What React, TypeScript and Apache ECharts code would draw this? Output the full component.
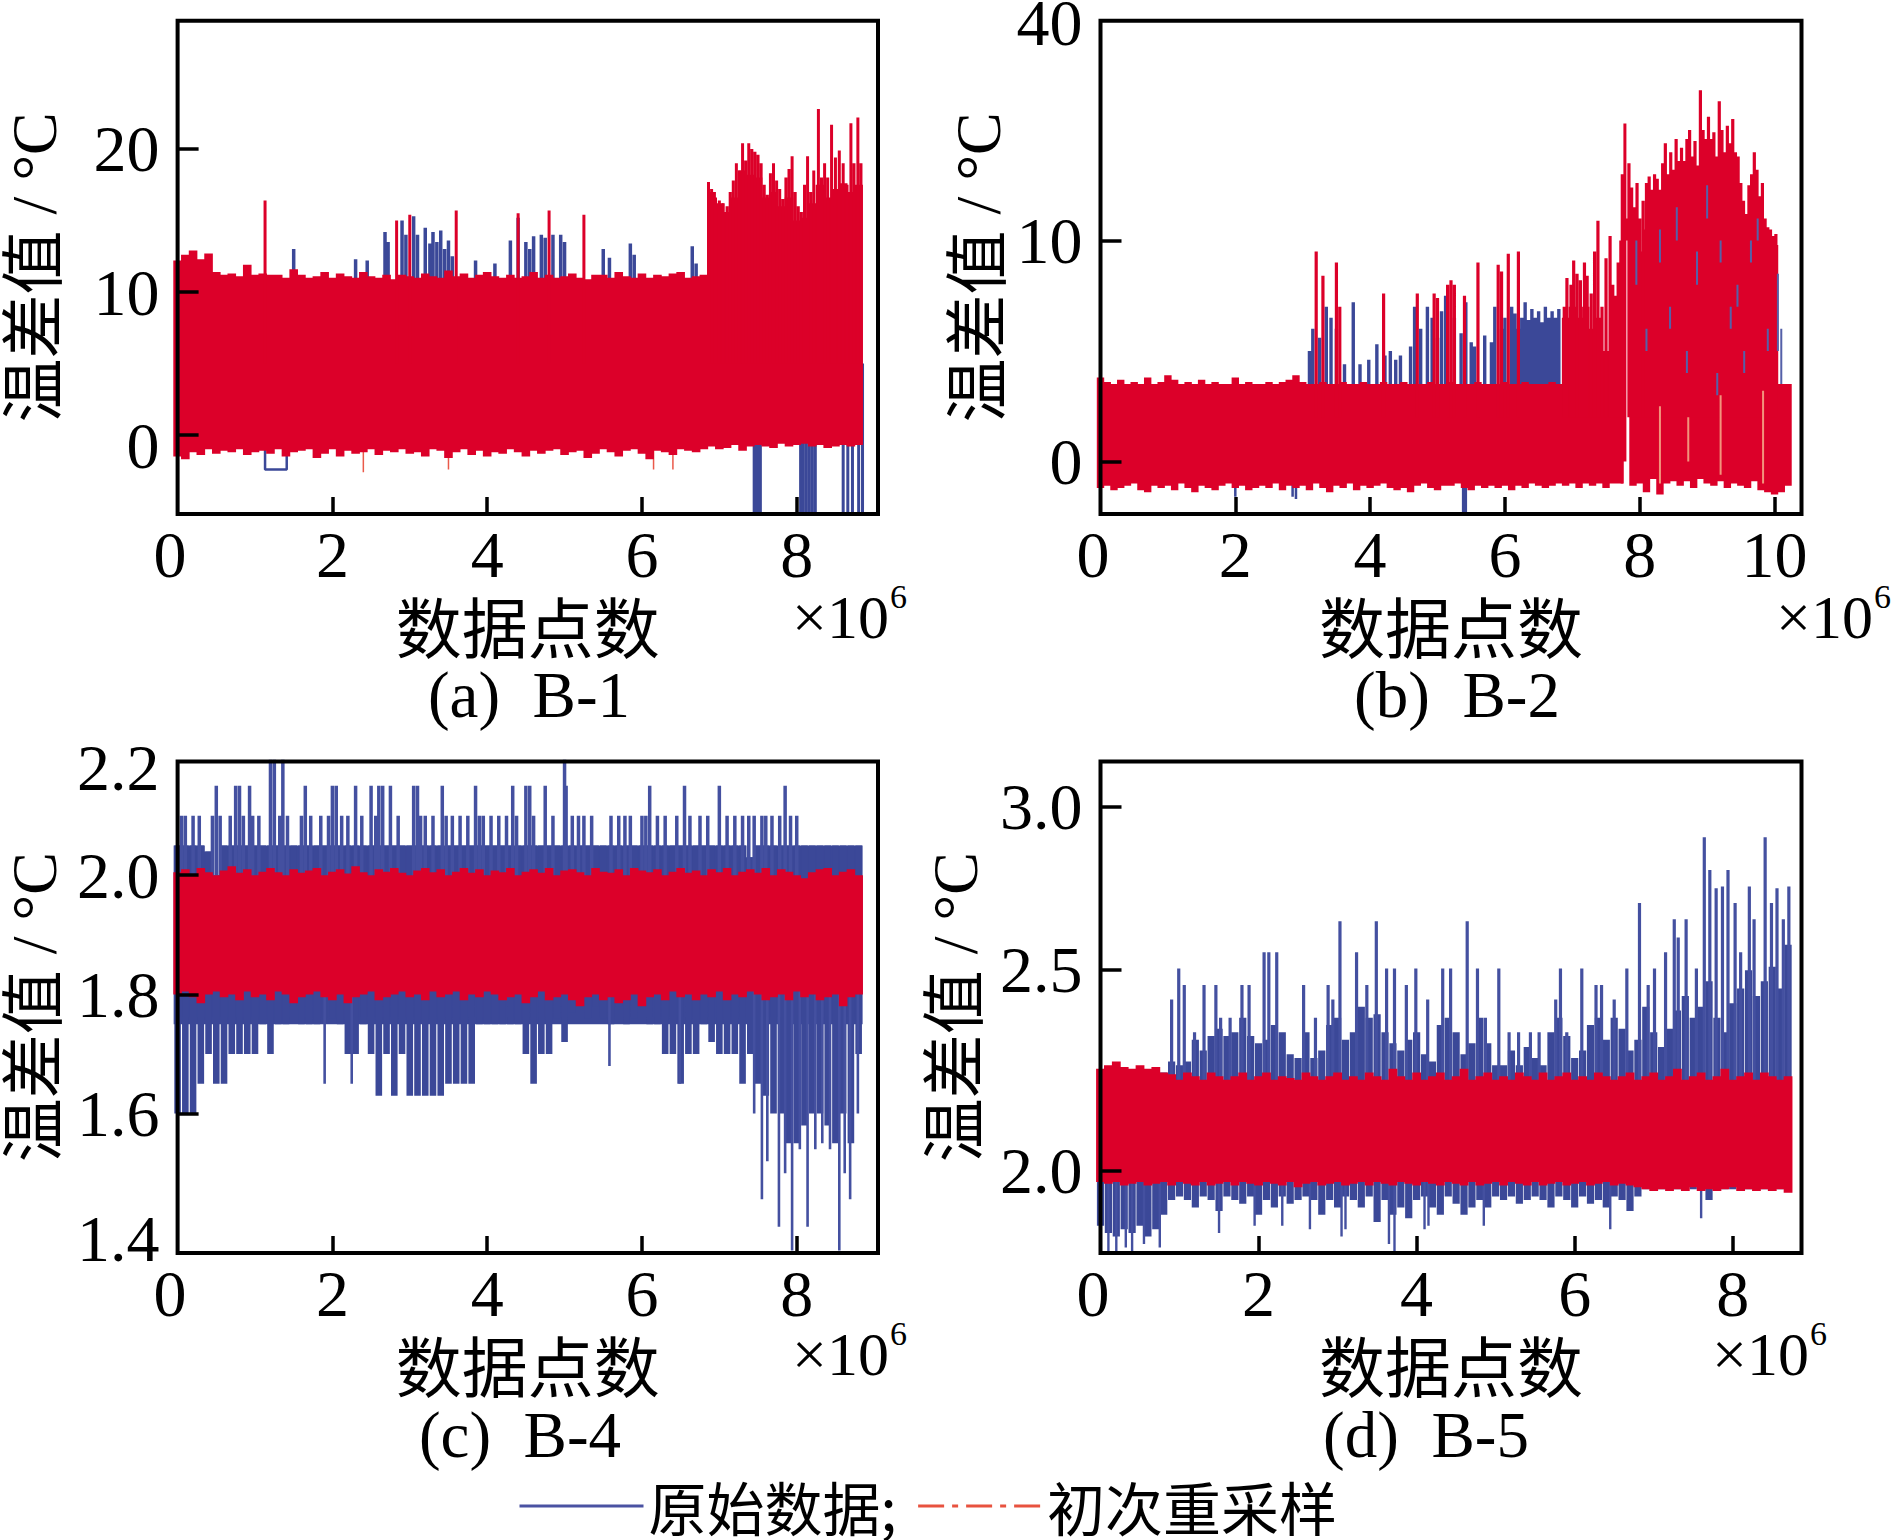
import React, { useEffect, useRef } from "react";
import * as echarts from "echarts";

const BLUE = "#3b4898";
const RED = "#dc0029";
const SERIF = '"Liberation Serif", "Noto Sans CJK SC", serif';
const CJK = '"Noto Sans CJK SC", sans-serif';

const legendNames = ["原始数据;", "初次重采样"];
const panelTitles = ["(a)\u00a0\u00a0B-1", "(b)\u00a0\u00a0B-2", "(c)\u00a0\u00a0B-4", "(d)\u00a0\u00a0B-5"];
const xAxisName = "数据点数";
const yAxisName = "温差值 / °C";

// ---------- B-1 ----------
const aRedHi = [12.2,12.6,12.9,12.3,12.7,11.4,11.2,11.3,11.1,11.9,11.2,11.3,11.2,11.2,11.0,11.6,11.2,11.0,11.1,11.4,11.0,11.3,11.1,11.0,11.4,11.1,11.0,11.2,10.9,11.2,11.1,11.0,11.3,11.1,11.0,11.5,11.1,11.3,11.0,11.2,11.4,11.1,11.0,11.2,11.0,11.1,11.4,11.0,11.2,11.0,11.1,11.3,11.0,10.9,11.2,11.2,11.0,11.4,11.1,11.0,11.3,11.0,11.2,11.1,11.3,11.4,11.0,11.1,11.2,17.0,16.2,15.6,16.6,18.5,18.2,18.0,16.6,17.0,16.0,16.6,15.0,15.2,16.2,17.5,16.6,17.2,17.6,17.0,17.5];
const aRedLo = [-1.5,-1.7,-1.2,-1.4,-1.0,-1.3,-1.1,-1.2,-1.0,-1.4,-1.2,-1.1,-1.3,-1.0,-1.5,-1.2,-1.1,-1.0,-1.6,-1.3,-1.0,-1.5,-1.1,-1.3,-1.2,-1.0,-1.4,-1.1,-1.2,-1.0,-1.3,-1.2,-1.5,-1.0,-1.1,-1.6,-1.2,-1.0,-1.4,-1.1,-1.5,-1.2,-1.3,-1.0,-1.2,-1.5,-1.1,-1.3,-1.1,-1.0,-1.4,-1.2,-1.1,-1.6,-1.3,-1.0,-1.2,-1.5,-1.1,-1.0,-1.3,-1.7,-1.1,-1.2,-1.4,-1.0,-1.1,-1.2,-1.0,-0.8,-1.0,-0.9,-0.7,-1.1,-0.8,-0.7,-0.8,-0.9,-0.6,-0.8,-0.7,-0.6,-0.8,-0.7,-0.9,-0.8,-0.7,-0.8,-0.7];
const aBlueUpX = [1.5,2.3,2.45,2.68,2.72,2.9,2.95,3.05,3.1,3.2,3.26,3.3,3.35,3.4,3.45,3.5,3.55,3.85,4.1,4.3,4.4,4.5,4.55,4.6,4.7,4.75,4.85,4.95,5.0,5.5,5.58,5.85,5.9,6.65,6.7];
const aBlueUpY = [13.0,12.3,12.2,14.2,13.5,15.0,14.0,15.3,14.0,14.5,13.4,14.2,13.5,14.3,13.0,13.6,12.5,12.2,12.0,13.6,15.2,13.5,13.0,13.9,14.0,13.8,14.0,14.0,13.5,13.0,12.4,13.4,12.6,13.2,12.0];
const aBlueDnX = [7.45,7.47,7.5,7.53,8.05,8.08,8.12,8.16,8.2,8.24,8.6,8.66,8.72,8.8,8.85];
const aBlueDnY = [-5.5,-5.5,-5.5,-5.5,-5.5,-5.5,-5.5,-5.5,-5.5,-5.5,-5.5,-5.5,-5.5,-5.5,-5.5];
const aNotchX = [1.13,1.13,1.41,1.41];
const aNotchY = [-1,-2.4,-2.4,-1];
const aRedUpX = [1.13,2.83,3.0,3.6,4.4,4.8,5.25,6.86,6.9,6.95,7.0,7.05,7.1,7.14,7.18,7.22,7.26,7.3,7.34,7.38,7.42,7.46,7.5,7.54,7.58,7.62,7.66,7.7,7.74,7.78,7.82,7.86,7.9,7.94,7.98,8.02,8.06,8.1,8.14,8.18,8.22,8.28,8.32,8.36,8.4,8.45,8.5,8.55,8.6,8.65,8.7,8.74,8.79,8.83];
const aRedUpY = [16.4,15.0,15.4,15.7,15.5,15.7,15.4,17.7,17.2,16.6,16.4,16.2,16.0,17.0,17.8,19.0,18.5,20.4,19.2,20.4,20.0,19.8,19.6,19.0,17.5,16.8,18.3,19.0,17.8,17.2,16.5,18.0,18.6,19.5,17.0,16.0,15.6,17.5,19.5,17.0,18.5,22.8,18.0,19.0,18.0,21.7,19.4,19.9,19.0,17.5,21.8,19.0,22.2,19.0];
const aRedDnX = [6.15,6.4,8.6,2.4,3.5];
const aRedDnY = [-2.4,-2.4,-2.6,-2.6,-2.4];

// ---------- B-2 ----------
const bRedHi = [3.8,3.6,3.5,3.7,3.5,3.6,3.5,3.8,3.5,3.6,3.9,3.7,3.5,3.6,3.5,3.7,3.5,3.6,3.5,3.5,3.8,3.5,3.6,3.5,3.5,3.6,3.5,3.6,3.7,3.9,3.6,3.5,3.5,3.6,3.5,3.5,3.6,3.5,3.5,3.6,3.5,3.5,3.6,3.5,3.5,3.6,3.5,3.5,3.5,3.6,3.5,3.5,3.6,3.5,3.5,3.5,3.6,3.5,3.5,3.5,3.6,3.5,3.5,3.6,3.5,3.5,3.5,3.6,3.5,6.5,7.0,6.5,7.0,6.0,6.5,5.0,5.5,6.5,11.0,10.5,9.5,10.5,11.0,11.0,11.0,12.0,11.5,12.0,12.0,13.0,13.0,12.5,13.0,12.5,12.5,11.0,10.0,11.0,10.5,9.8,9.8,3.5,3.5];
const bRedLo = [-1.2,-1.1,-1.3,-1.2,-1.1,-1.0,-1.3,-1.4,-1.1,-1.2,-1.1,-1.3,-1.0,-1.2,-1.4,-1.1,-1.2,-1.3,-1.1,-1.0,-1.2,-1.1,-1.3,-1.2,-1.1,-1.2,-1.0,-1.3,-1.1,-1.2,-1.1,-1.3,-1.0,-1.2,-1.4,-1.1,-1.2,-1.0,-1.3,-1.1,-1.2,-1.1,-1.0,-1.2,-1.3,-1.2,-1.4,-1.1,-1.0,-1.2,-1.3,-1.1,-1.1,-1.0,-1.2,-1.3,-1.1,-1.2,-1.1,-1.2,-1.1,-1.3,-1.1,-1.2,-1.0,-1.1,-1.2,-1.1,-1.0,-1.1,-1.0,-1.2,-1.0,-1.1,-1.0,-1.2,-1.0,-1.0,10.0,-1.1,-1.0,-1.4,-0.8,-1.5,-1.0,-0.9,-1.1,-0.9,-1.2,-0.8,-1.0,-1.1,-0.9,-1.2,-1.0,-1.1,-1.2,-0.9,-1.3,-1.4,-1.5,-1.4,-1.1];
const bBlueTopX = [3.1,3.15,3.25,3.35,3.42,3.5,3.62,3.75,3.85,3.98,4.1,4.22,4.3,4.38,4.45,4.6,4.66,4.75,4.85,4.92,5.0,5.06,5.12,5.25,5.35,5.42,5.5,5.55,5.7,5.8,5.85,5.95,6.0,6.1,6.15,6.2,6.25,6.3,6.35,6.4,6.45,6.5,6.55,6.6,6.65,6.7,6.75,6.8];
const bBlueTopY = [5.0,6.0,5.6,7.0,6.5,6.0,4.4,7.2,4.4,4.6,5.3,4.8,5.0,4.6,4.8,5.2,7.0,6.0,7.0,6.5,5.6,6.8,7.5,6.5,5.8,7.2,5.4,5.2,5.7,5.4,7.0,6.0,6.5,7.0,6.7,6.0,6.5,7.2,6.4,6.9,6.5,6.8,6.3,7.0,6.5,6.8,6.5,6.9];
const bRedUpX = [3.2,3.3,3.5,3.55,4.2,4.7,4.95,5.0,5.15,5.2,5.25,5.4,5.6,5.9,5.95,6.05,6.2,6.88,6.92,6.98,7.02,7.07,7.12,7.18,7.22,7.28,7.33,7.38,7.44,7.5,7.56,7.6,7.64,7.68,7.72,7.84,7.88,7.92,7.96,8.0,8.05,8.1,8.14,8.18,8.22,8.26,8.3,8.34,8.38,8.42,8.46,8.5,8.54,8.58,8.62,8.66,8.7,8.74,8.78,8.82,8.86,8.9,8.94,8.98,9.02,9.06,9.1,9.14,9.18,9.22,9.26,9.3,9.34,9.38,9.42,9.46,9.5,9.54,9.58,9.62,9.66,9.7,9.74,9.78,9.82,9.86,9.9,9.94,9.98,10.02];
const bRedUpY = [9.5,8.4,9.0,7.0,7.6,7.6,7.6,7.4,8.0,8.2,8.0,7.5,9.0,8.9,8.6,9.4,9.5,7.0,8.3,8.0,9.1,8.5,8.2,9.0,8.4,7.6,9.5,10.9,7.0,9.2,10.2,8.0,7.5,9.0,10.0,13.5,12.4,11.5,12.6,11.0,11.8,12.6,12.9,12.3,13.0,12.8,12.3,13.5,14.4,13.0,14.0,13.2,14.6,13.6,14.2,13.6,14.6,15.0,13.8,14.5,13.4,16.8,15.0,14.6,15.6,14.6,14.9,13.8,16.3,15.0,14.0,15.2,14.4,15.5,14.0,13.8,12.6,11.8,11.2,12.5,13.0,14.0,13.2,12.0,12.6,11.0,10.6,10.5,10.2,10.3];
const bRedSegX = [7.74,7.78];
const bRedSegLo = [-1,0];
const bRedSegHi = [13,15.3];
const bBlueDnX = [2.0,2.85,2.9,5.38,5.4,5.42];
const bBlueDnY = [-1.6,-1.6,-1.7,-2.4,-2.4,-2.4];
const bFleckX = [7.95,8.1,8.3,8.45,8.55,8.7,8.85,9.0,9.15,9.2,9.35,9.45,9.55,9.65,9.75,9.9,10.05,10.1];
const bFleckLo = [8,5,9,6,10,4,8,11,3,9,6,7,4,9,10,5,5,3.5];
const bFleckHi = [10,6,10.5,7,11.5,5,9.5,12.5,4,10,7,8,5,10,11,6,8.5,6];
const bLightX = [8.3,9.2,9.83,8.72];
const bLightLo = [-1,-0.6,-1,0];
const bLightHi = [2.5,3.0,3.2,2.0];

// ---------- B-4 ----------
const cRedHi = [2.005,2.01,2.0,2.012,2.005,2.0,2.008,2.015,2.004,2.01,2.0,2.006,2.012,2.005,2.0,2.01,2.004,2.008,2.012,2.0,2.006,2.01,2.003,2.015,2.005,2.0,2.01,2.006,2.012,2.004,2.0,2.008,2.012,2.005,2.01,2.0,2.006,2.012,2.004,2.01,2.0,2.008,2.005,2.012,2.0,2.006,2.01,2.004,2.012,2.0,2.008,2.01,2.005,2.0,2.012,2.006,2.004,2.01,2.0,2.012,2.008,2.005,2.01,2.0,2.006,2.012,2.004,2.008,2.0,2.01,2.005,2.012,2.0,2.006,2.01,2.004,2.012,2.0,2.01,2.006,2.0,1.995,2.005,2.01,2.012,2.0,2.006,2.01,2.0];
const cRedLo = [1.8,1.805,1.795,1.785,1.8,1.805,1.795,1.8,1.79,1.805,1.795,1.8,1.79,1.805,1.8,1.785,1.795,1.8,1.805,1.795,1.79,1.8,1.785,1.795,1.8,1.805,1.79,1.795,1.8,1.805,1.795,1.8,1.79,1.805,1.795,1.8,1.805,1.79,1.8,1.795,1.805,1.8,1.79,1.795,1.8,1.785,1.795,1.805,1.79,1.795,1.8,1.79,1.78,1.795,1.8,1.79,1.795,1.785,1.79,1.8,1.78,1.795,1.8,1.79,1.805,1.795,1.8,1.79,1.8,1.795,1.805,1.79,1.8,1.795,1.805,1.8,1.79,1.795,1.8,1.79,1.805,1.795,1.8,1.79,1.795,1.8,1.78,1.795,1.8];
const cBlueTop = [2.05,2.05,2.05,2.05,2.04,2.0,2.05,2.05,2.05,2.05,2.05,2.05,2.05,2.05,2.05,2.05,2.05,2.05,2.05,2.05,2.05,2.05,2.05,2.05,2.05,2.05,2.05,2.05,2.05,2.05,2.05,2.05,2.05,2.05,2.05,2.05,2.05,2.05,2.05,2.05,2.05,2.05,2.05,2.05,2.05,2.05,2.05,2.05,2.05,2.05,2.05,2.05,2.05,2.05,2.05,2.05,2.05,2.05,2.05,2.05,2.05,2.05,2.05,2.05,2.05,2.05,2.05,2.05,2.05,2.05,2.05,2.05,2.05,2.05,2.03,2.05,2.05,2.05,2.05,2.05,2.05,2.05,2.05,2.05,2.05,2.05,2.05,2.05,2.05];
const cBlueBot = [1.6,1.6,1.6,1.65,1.7,1.65,1.65,1.7,1.7,1.7,1.7,1.75,1.7,1.75,1.75,1.78,1.75,1.75,1.75,1.76,1.76,1.75,1.7,1.7,1.75,1.7,1.63,1.7,1.63,1.7,1.63,1.63,1.63,1.63,1.63,1.65,1.65,1.65,1.65,1.75,1.75,1.75,1.75,1.75,1.75,1.7,1.65,1.7,1.7,1.76,1.72,1.77,1.78,1.76,1.78,1.76,1.75,1.78,1.75,1.76,1.78,1.75,1.75,1.7,1.7,1.65,1.7,1.7,1.75,1.72,1.7,1.7,1.7,1.65,1.7,1.65,1.63,1.6,1.6,1.55,1.55,1.58,1.6,1.6,1.58,1.55,1.6,1.55,1.7];
const cBlueSolidLo = 1.75;
const cBlueUpX = [0.05,0.1,0.2,0.28,0.45,0.5,0.55,0.68,0.75,0.8,0.85,0.93,0.97,1.05,1.2,1.25,1.32,1.36,1.42,1.6,1.65,1.72,1.85,1.95,2.0,2.05,2.12,2.2,2.3,2.38,2.5,2.56,2.6,2.65,2.75,2.85,3.05,3.1,3.14,3.2,3.3,3.42,3.47,3.55,3.65,3.75,3.85,3.9,3.95,4.05,4.15,4.25,4.33,4.38,4.5,4.55,4.6,4.75,4.85,5.0,5.02,5.1,5.18,5.25,5.35,5.6,5.7,5.78,5.85,6.0,6.05,6.1,6.2,6.3,6.45,6.55,6.62,6.75,6.85,7.0,7.1,7.2,7.3,7.38,7.45,7.55,7.6,7.68,7.78,7.85,7.92,8.0];
const cBlueUpY = [2.1,2.1,2.1,2.1,2.1,2.15,2.1,2.1,2.15,2.15,2.1,2.15,2.1,2.1,2.2,2.2,2.1,2.2,2.1,2.1,2.15,2.1,2.1,2.1,2.15,2.15,2.1,2.1,2.15,2.1,2.15,2.1,2.15,2.15,2.15,2.1,2.15,2.15,2.1,2.1,2.1,2.15,2.1,2.1,2.1,2.1,2.15,2.1,2.1,2.1,2.1,2.1,2.15,2.1,2.15,2.15,2.1,2.15,2.1,2.2,2.15,2.1,2.1,2.1,2.1,2.1,2.1,2.1,2.1,2.1,2.1,2.15,2.1,2.1,2.1,2.15,2.1,2.1,2.1,2.15,2.1,2.1,2.1,2.1,2.1,2.1,2.1,2.1,2.1,2.15,2.1,2.1];
const cBlueDnX = [1.9,2.25,5.58,6.49,7.45,7.55,7.77,7.85,7.94,8.04,8.14,8.24,8.43,8.55,8.69,8.79,7.62,8.33,8.62];
const cBlueDnY = [1.65,1.65,1.68,1.65,1.6,1.456,1.41,1.5,1.37,1.54,1.41,1.54,1.54,1.37,1.456,1.6,1.52,1.55,1.5];

// ---------- B-5 ----------
const dRedHi = [2.28,2.29,2.3,2.285,2.28,2.29,2.28,2.285,2.27,2.265,2.25,2.27,2.26,2.25,2.27,2.26,2.25,2.26,2.27,2.25,2.26,2.27,2.25,2.26,2.255,2.25,2.27,2.26,2.25,2.26,2.27,2.25,2.26,2.25,2.27,2.26,2.25,2.28,2.26,2.25,2.27,2.25,2.26,2.27,2.25,2.26,2.28,2.25,2.26,2.27,2.25,2.26,2.25,2.27,2.26,2.25,2.27,2.25,2.26,2.27,2.25,2.26,2.25,2.27,2.26,2.25,2.26,2.27,2.25,2.26,2.27,2.25,2.26,2.28,2.25,2.26,2.27,2.25,2.26,2.28,2.25,2.26,2.27,2.25,2.27,2.26,2.25,2.26];
const dRedLo = [1.97,1.965,1.97,1.96,1.965,1.97,1.96,1.965,1.97,1.96,1.97,1.965,1.96,1.97,1.96,1.965,1.97,1.96,1.97,1.965,1.96,1.97,1.965,1.96,1.97,1.955,1.965,1.97,1.96,1.965,1.97,1.96,1.965,1.97,1.96,1.97,1.965,1.96,1.97,1.965,1.96,1.97,1.965,1.96,1.97,1.965,1.96,1.97,1.96,1.965,1.97,1.96,1.97,1.965,1.96,1.97,1.96,1.965,1.97,1.96,1.965,1.97,1.96,1.965,1.97,1.96,1.965,1.96,1.955,1.95,1.945,1.95,1.945,1.95,1.945,1.955,1.945,1.95,1.945,1.95,1.955,1.945,1.95,1.945,1.95,1.945,1.95,1.94];
const dBlueTop = [2.27,2.27,2.27,2.27,2.27,2.27,2.27,2.27,2.27,2.3,2.29,2.3,2.36,2.33,2.37,2.39,2.37,2.38,2.42,2.37,2.35,2.36,2.4,2.38,2.32,2.31,2.38,2.31,2.33,2.4,2.42,2.36,2.38,2.45,2.42,2.43,2.38,2.35,2.33,2.36,2.38,2.32,2.3,2.4,2.42,2.38,2.32,2.35,2.42,2.35,2.29,2.29,2.33,2.29,2.34,2.31,2.29,2.38,2.42,2.37,2.31,2.33,2.4,2.42,2.36,2.42,2.39,2.33,2.36,2.45,2.38,2.34,2.39,2.44,2.48,2.42,2.45,2.52,2.42,2.38,2.46,2.5,2.55,2.48,2.52,2.56,2.5,2.62];
const dBlueBot = [1.85,1.83,1.82,1.84,1.83,1.85,1.82,1.84,1.88,1.92,1.93,1.92,1.9,1.93,1.92,1.89,1.93,1.92,1.91,1.93,1.88,1.92,1.9,1.93,1.91,1.92,1.93,1.92,1.88,1.92,1.9,1.93,1.92,1.9,1.93,1.86,1.92,1.88,1.9,1.87,1.92,1.93,1.9,1.88,1.93,1.91,1.88,1.9,1.92,1.9,1.93,1.92,1.93,1.91,1.92,1.93,1.92,1.9,1.93,1.92,1.9,1.93,1.91,1.92,1.9,1.93,1.92,1.89,1.93,1.95,1.95,1.95,1.95,1.95,1.95,1.95,1.95,1.92,1.95,1.95,1.95,1.95,1.95,1.95,1.95,1.95,1.95,1.95];
const dBlueUpX = [0.90,0.99,1.06,1.19,1.31,1.46,1.52,1.64,1.79,1.88,2.07,2.13,2.23,2.57,2.72,2.88,2.94,3.03,3.24,3.37,3.49,3.62,3.72,3.87,3.99,4.14,4.33,4.43,4.64,4.77,4.87,5.04,5.17,5.29,5.44,5.55,5.76,5.82,5.90,6.09,6.27,6.34,6.50,6.66,6.82,6.93,7.01,7.15,7.26,7.31,7.41,7.54,7.64,7.71,7.79,7.87,7.94,8.03,8.10,8.21,8.27,8.41,8.49,8.56,8.64,8.71];
const dBlueUpY = [2.47,2.555,2.51,2.38,2.51,2.51,2.42,2.42,2.51,2.51,2.6,2.6,2.6,2.51,2.42,2.51,2.47,2.685,2.6,2.51,2.685,2.555,2.555,2.51,2.555,2.47,2.555,2.555,2.685,2.555,2.42,2.555,2.38,2.38,2.38,2.38,2.47,2.555,2.38,2.555,2.51,2.51,2.47,2.555,2.735,2.51,2.555,2.6,2.69,2.64,2.69,2.555,2.915,2.825,2.775,2.78,2.825,2.735,2.6,2.78,2.69,2.915,2.735,2.775,2.69,2.78];
const dBlueDnX = [0.1,0.2,0.32,0.4,0.55,0.75,1.5,1.95,2.3,2.65,3.05,3.1,3.65,3.72,4.1,4.15,4.85,6.45,7.6];
const dBlueDnY = [1.78,1.78,1.79,1.78,1.8,1.79,1.83,1.85,1.85,1.84,1.82,1.84,1.8,1.78,1.84,1.85,1.85,1.84,1.87];

// ---------- axes ----------
const aYTicks = [0, 10, 20];
const aYLabels = [-0.7, 10, 20];
const aYLabelText = ["0", "10", "20"];
const bYTicks = [0, 10];
const bYLabels = [0, 10, 19.85];
const bYLabelText = ["0", "10", "40"];
const cYTicks = [1.6, 1.8, 2.0];
const cYLabels = [1.39, 1.6, 1.8, 2.0, 2.18];
const cYLabelText = ["1.4", "1.6", "1.8", "2.0", "2.2"];
const dYTicks = [2.0, 2.553, 3.0];
const dYLabels = [2.0, 2.553, 3.0];
const dYLabelText = ["2.0", "2.5", "3.0"];
const xTicksShort = [0, 2, 4, 6, 8];
const xTicksLong = [0, 2, 4, 6, 8, 10];

const segs = (xs: number[], lo: number[] | number, hi: number[]) => {
  const out: number[][] = [];
  xs.forEach((x, i) => {
    out.push([x, Array.isArray(lo) ? lo[i] : lo], [x, hi[i]], [NaN, NaN]);
  });
  return out;
};
const idx = (vals: number[], step: number) => vals.map((_, i) => +(i * step).toFixed(3));

const line = (name: string, gi: number, data: any, color: string, width: number, z = 2) => ({
  type: "line",
  name,
  xAxisIndex: gi,
  yAxisIndex: gi,
  data,
  showSymbol: false,
  symbol: "none",
  connectNulls: false,
  z,
  silent: true,
  itemStyle: { color },
  lineStyle: { color, width, cap: "butt", join: "bevel" },
});

const [B, R] = legendNames;
const seriesList = [
  // a
  line(B, 0, segs(aBlueUpX, 5, aBlueUpY), BLUE, 3.5),
  line(B, 0, segs(aBlueDnX, 5, aBlueDnY), BLUE, 3),
  line(B, 0, aNotchX.map((x, i) => [x, aNotchY[i]]), BLUE, 2.5),
  line(R, 0, segs(idx(aRedHi, 0.1), aRedLo, aRedHi), RED, 8.6, 3),
  line(R, 0, segs(aRedUpX, 5, aRedUpY), RED, 3, 4),
  line(R, 0, segs(aRedDnX, 5, aRedDnY), "#ea5a4a", 1.5, 1),
  // b
  line(B, 1, segs(bBlueTopX, 2, bBlueTopY), BLUE, 3.4),
  line(B, 1, segs(bBlueDnX, 2, bBlueDnY), BLUE, 2.5),
  line(R, 1, segs(idx(bRedHi, 0.1), bRedLo, bRedHi), RED, 7.4, 3),
  line(R, 1, segs(bRedUpX, 2, bRedUpY), RED, 3.2, 4),
  line(R, 1, segs(bRedSegX, bRedSegLo, bRedSegHi), RED, 3, 4),
  line(B, 1, segs(bFleckX, bFleckLo, bFleckHi), "#5560a8", 2, 5),
  line(R, 1, segs(bLightX, bLightLo, bLightHi), "#f2937c", 2, 5),
  // c
  line(B, 2, segs(idx(cBlueTop, 0.1), cBlueSolidLo, cBlueTop), BLUE, 7.9),
  line(B, 2, segs(idx(cBlueTop, 0.1), cBlueBot, cBlueTop), BLUE, 6.6),
  line(B, 2, segs(cBlueUpX, 1.9, cBlueUpY), "#4450a0", 3.5),
  line(B, 2, segs(cBlueDnX, 1.9, cBlueDnY), "#4450a0", 2.6),
  line(R, 2, segs(idx(cRedHi, 0.1), cRedLo, cRedHi), RED, 8.6, 3),
  // d
  line(B, 3, segs(idx(dBlueTop, 0.1), dBlueBot, dBlueTop), BLUE, 7.2),
  line(B, 3, segs(dBlueUpX, 2.1, dBlueUpY), "#4450a0", 3.2),
  line(B, 3, segs(dBlueDnX, 2.1, dBlueDnY), "#4450a0", 2.4),
  line(R, 3, segs(idx(dRedHi, 0.1), dRedLo, dRedHi), RED, 8.8, 3),
];

const gridBox = [
  { left: 177.6, top: 20.7, width: 700.4, height: 493.3 },
  { left: 1100.5, top: 20.7, width: 701, height: 493.3 },
  { left: 177.6, top: 761.4, width: 700.4, height: 491.6 },
  { left: 1100.5, top: 761.4, width: 701, height: 491.6 },
];
const xMax = [9.05, 10.4, 9.05, 8.87];
const yMin = [-5.52, -2.38, 1.366, 1.775];
const yMax = [28.97, 19.95, 2.191, 3.123];
const xTicks = [xTicksShort, xTicksLong, xTicksShort, xTicksShort];
const yTicks = [aYTicks, bYTicks, cYTicks, dYTicks];
const yLabels = [aYLabels, bYLabels, cYLabels, dYLabels];
const yTexts = [aYLabelText, bYLabelText, cYLabelText, dYLabelText];
const yNameGap = [111, 90, 111, 113];
const titleX = [529, 1457, 520, 1426];
const titleY = [662, 662, 1402, 1402];
const expX = [792, 1776, 792, 1712];
const expY = [617, 617, 1354, 1354];

const option: any = {
  animation: false,
  backgroundColor: "#fff",
  title: panelTitles.map((text, i) => ({
    text,
    left: titleX[i],
    top: titleY[i],
    textAlign: "center",
    padding: 0,
    textStyle: { fontFamily: SERIF, fontSize: 65, fontWeight: "normal", color: "#000" },
  })),
  legend: {
    left: 513,
    top: 1472,
    itemWidth: 124,
    itemHeight: 12,
    itemGap: 20,
    selectedMode: false,
    textStyle: { fontFamily: CJK, fontSize: 58, color: "#000" },
    data: [
      { name: B, itemStyle: { opacity: 0 }, lineStyle: { color: "#4a52a2", width: 3 } },
      { name: R, itemStyle: { opacity: 0 }, lineStyle: { color: "#e8523f", width: 3, type: [26, 8, 6, 8] } },
    ],
  },
  grid: gridBox.map((g) => ({
    ...g,
    outerBoundsMode: "none",
    show: true,
    z: 20,
    backgroundColor: "transparent",
    borderColor: "#000",
    borderWidth: 4,
  })),
  xAxis: gridBox.map((_, i) => ({
    type: "value",
    gridIndex: i,
    min: 0,
    max: xMax[i],
    z: 10,
    splitLine: { show: false },
    axisLine: { show: false, onZero: false },
    axisTick: { inside: true, length: 17, lineStyle: { color: "#000", width: 3.5 }, customValues: xTicks[i].slice(1) },
    axisLabel: {
      customValues: xTicks[i],
      margin: 7,
      fontFamily: SERIF,
      fontSize: 66,
      color: "#000",
      rich: { z: { fontFamily: SERIF, fontSize: 66, color: "#000", padding: [0, 15, 0, 0] } },
      formatter: (v: number) => (v === 0 ? "{z|0}" : String(v)),
    },
    name: xAxisName,
    nameLocation: "middle",
    nameGap: 77,
    nameTextStyle: { fontFamily: CJK, fontSize: 66, color: "#000" },
  })),
  yAxis: gridBox.map((_, i) => ({
    type: "value",
    gridIndex: i,
    min: yMin[i],
    max: yMax[i],
    z: 10,
    splitLine: { show: false },
    axisLine: { show: false, onZero: false },
    axisTick: { inside: true, length: 21, lineStyle: { color: "#000", width: 3.5 }, customValues: yTicks[i] },
    axisLabel: {
      customValues: yLabels[i],
      margin: 18,
      fontFamily: SERIF,
      fontSize: 66,
      color: "#000",
      formatter: (v: number) => yTexts[i][yLabels[i].indexOf(v)] ?? String(v),
    },
    name: yAxisName,
    nameLocation: "middle",
    nameGap: yNameGap[i],
    nameTextStyle: { fontFamily: SERIF, fontSize: 64, color: "#000" },
  })),
  graphic: expX.flatMap((x, i) => [
    {
      type: "text",
      x,
      y: expY[i],
      style: { text: "×10", fontFamily: SERIF, fontSize: 62, fill: "#000", verticalAlign: "middle" },
    },
    {
      type: "text",
      x: x + 98,
      y: expY[i] - 21,
      style: { text: "6", fontFamily: SERIF, fontSize: 34, fill: "#000", verticalAlign: "middle" },
    },
  ]),
  series: seriesList,
};

export default function App() {
  const ref = useRef<HTMLDivElement>(null);
  useEffect(() => {
    const chart = echarts.init(ref.current!, undefined, { renderer: "svg" });
    chart.setOption(option);
    return () => chart.dispose();
  }, []);
  return <div ref={ref} style={{ position: "absolute", left: 0, top: 0, width: 1895, height: 1540 }} />;
}
